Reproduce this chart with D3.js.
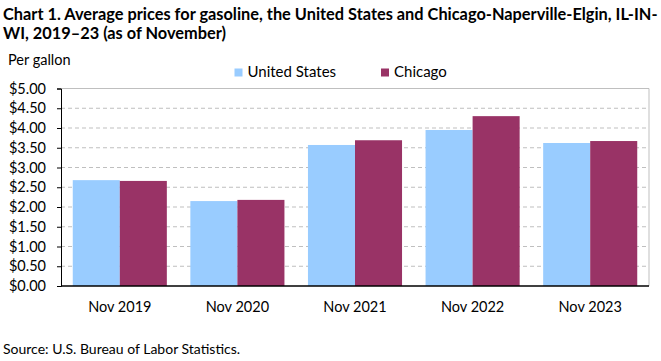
<!DOCTYPE html>
<html><head><meta charset="utf-8">
<script src="https://cdn.jsdelivr.net/npm/d3@7"></script>
<style>
html,body{margin:0;padding:0;background:#fff;}
svg{display:block;font-family:Lato, "Open Sans", sans-serif;}
</style></head>
<body>
<svg id="chart" width="661" height="361"></svg>
<script>
const categories = ["Nov 2019", "Nov 2020", "Nov 2021", "Nov 2022", "Nov 2023"];
const seriesNames = ["United States", "Chicago"];
const usValues = [2.68, 2.15, 3.57, 3.95, 3.62];
const chicagoValues = [2.66, 2.18, 3.69, 4.30, 3.67];
const yTicks = [0, 0.5, 1, 1.5, 2, 2.5, 3, 3.5, 4, 4.5, 5];
const colors = ["#99ccff", "#993366"];
const titleLines = ["Chart 1. Average prices for gasoline, the United States and Chicago-Naperville-Elgin, IL-IN-", "WI, 2019\u201323 (as of November)"];
const yLabel = "Per gallon";
const source = "Source: U.S. Bureau of Labor Statistics.";

const svg = d3.select("#chart");
const m = {left: 61, right: 649, top: 88.5, bottom: 286};

const x = d3.scaleBand().domain(categories).range([m.left, m.right]).paddingInner(0.2).paddingOuter(0.1);
const xs = d3.scaleBand().domain(seriesNames).range([0, x.bandwidth()]).padding(0);
const y = d3.scaleLinear().domain([0, 5]).range([m.bottom, m.top]);

// Title
const title = svg.append("g").attr("font-weight", "bold").attr("fill", "#000");
const t1 = title.append("text").attr("x", 3).attr("y", 19.5).attr("font-size", 16).text(titleLines[0]);
const w = t1.node().getComputedTextLength();
const fs = 16 * 655 / w;
t1.attr("font-size", fs);
title.append("text").attr("x", 3).attr("y", 38.5).attr("font-size", fs).text(titleLines[1]);

svg.append("text").attr("x", 8).attr("y", 65).attr("font-size", 14.5).attr("fill", "#000").text(yLabel);

// Gridlines
svg.append("g").selectAll("line").data(yTicks.filter(d => d > 0 && d < 5)).join("line")
  .attr("x1", m.left).attr("x2", m.right)
  .attr("y1", d => y(d)).attr("y2", d => y(d))
  .attr("stroke", "#bfbfbf").attr("stroke-width", 1).attr("stroke-dasharray", "4,3");

// Border top & right
svg.append("path")
  .attr("d", `M${m.left},${y(5)}H${m.right}V${m.bottom}`)
  .attr("fill", "none").attr("stroke", "#bfbfbf").attr("stroke-width", 1);

// Bars
const groups = svg.append("g").selectAll("g").data(categories).join("g")
  .attr("transform", d => `translate(${x(d)},0)`);
groups.selectAll("rect").data((d, i) => [
    {s: seriesNames[0], v: usValues[i], c: colors[0]},
    {s: seriesNames[1], v: chicagoValues[i], c: colors[1]}
  ]).join("rect")
  .attr("x", d => xs(d.s)).attr("width", xs.bandwidth())
  .attr("y", d => y(d.v)).attr("height", d => y(0) - y(d.v))
  .attr("fill", d => d.c);

// Y axis
const yAxis = svg.append("g").attr("transform", `translate(${m.left},0)`)
  .call(d3.axisLeft(y).tickValues(yTicks).tickFormat(d => "$" + d3.format(".2f")(d)).tickSizeOuter(0).tickSize(4).tickPadding(11));
yAxis.select(".domain").attr("stroke", "#000").attr("stroke-width", 1);
yAxis.selectAll(".tick line").attr("stroke", "#000");
yAxis.selectAll("text").attr("font-size", 14.5).attr("fill", "#000").attr("font-family", "Lato, sans-serif");

// X axis
const xAxis = svg.append("g").attr("transform", `translate(0,${m.bottom})`)
  .call(d3.axisBottom(x).tickSize(0).tickSizeOuter(0).tickPadding(16));
xAxis.select(".domain").attr("stroke", "#000").attr("stroke-width", 1.5)
  .attr("d", `M${m.left},0H${m.right}`);
xAxis.selectAll("text").attr("font-size", 14.5).attr("fill", "#000").attr("font-family", "Lato, sans-serif");

// Legend
const legendPos = [234.5, 381];
const lg = svg.append("g").selectAll("g").data(seriesNames).join("g")
  .attr("transform", (d, i) => `translate(${legendPos[i]},0)`);
lg.append("rect").attr("x", 0).attr("y", 68.5).attr("width", 8).attr("height", 8).attr("fill", (d, i) => colors[i]);
lg.append("text").attr("x", 13).attr("y", 77).attr("font-size", 15).attr("fill", "#000").text(d => d);

svg.append("text").attr("x", 3).attr("y", 354).attr("font-size", 14).attr("fill", "#000").text(source);
</script>
</body></html>
